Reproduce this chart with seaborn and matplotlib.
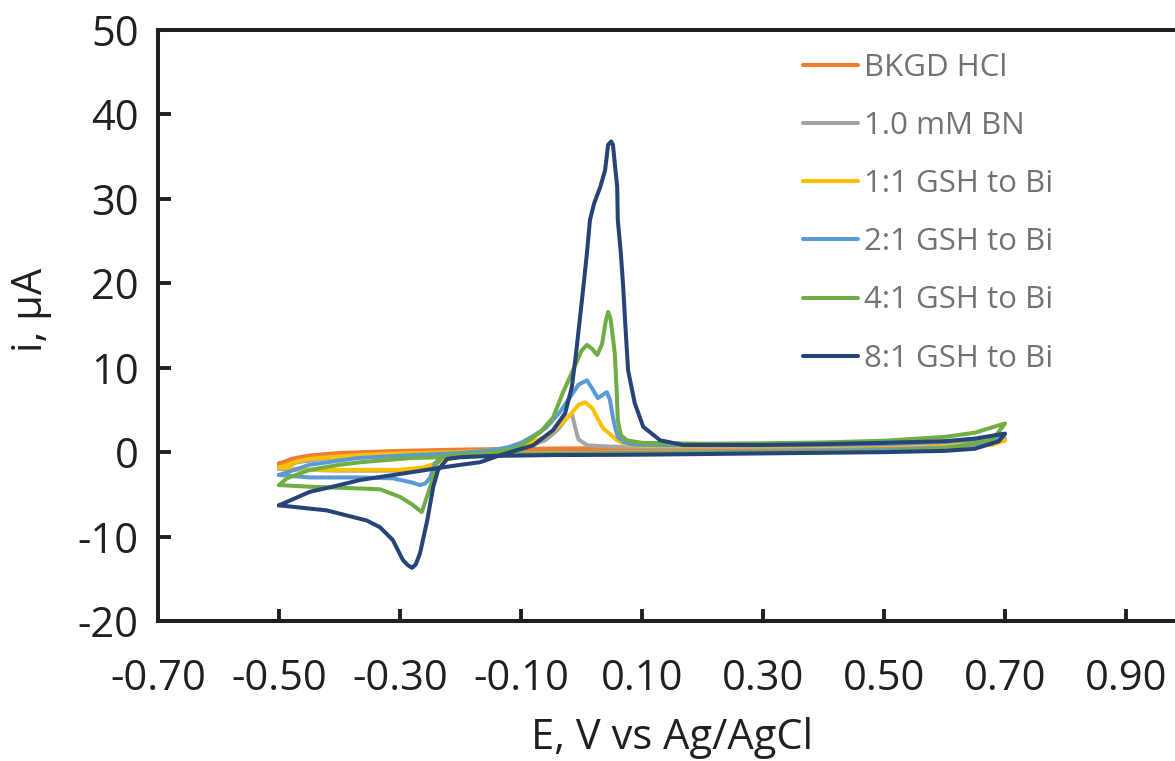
import numpy as np
import pandas as pd
import matplotlib
matplotlib.use('Agg')
import matplotlib.pyplot as plt
import matplotlib.ticker as mticker
import seaborn as sns

# series: each is a cyclic scan starting at -0.5 V, forward to 0.7 V, then back
bkgd_E = [-0.50, -0.48, -0.45, -0.40, -0.30, -0.20, -0.10, 0.00, 0.10, 0.20, 0.30, 0.40, 0.50, 0.60, 0.65, 0.70,
          0.68, 0.60, 0.50, 0.40, 0.30, 0.20, 0.10, 0.00, -0.10, -0.20, -0.30, -0.40, -0.45, -0.50]
bkgd_i = [-1.5, -0.8, -0.4, -0.1, 0.15, 0.3, 0.4, 0.45, 0.5, 0.55, 0.6, 0.65, 0.75, 0.95, 1.15, 1.6,
          1.0, 0.5, 0.35, 0.25, 0.2, 0.15, 0.1, 0.05, 0.0, -0.05, -0.1, -0.25, -0.5, -1.3]

bn_E = [-0.50, -0.47, -0.42, -0.35, -0.25, -0.15, -0.10, -0.06, -0.04, -0.025, -0.016, -0.010, -0.005, 0.01, 0.05,
        0.10, 0.20, 0.30, 0.40, 0.50, 0.60, 0.65, 0.70,
        0.68, 0.60, 0.50, 0.30, 0.10, -0.10, -0.20, -0.23, -0.26, -0.30, -0.40, -0.50]
bn_i = [-2.0, -1.2, -0.7, -0.4, -0.2, 0.0, 0.4, 1.4, 2.6, 4.0, 4.6, 2.8, 1.5, 0.8, 0.65,
        0.6, 0.6, 0.65, 0.7, 0.8, 1.0, 1.2, 1.6,
        0.9, 0.4, 0.2, 0.05, -0.05, -0.15, -0.4, -1.0, -1.9, -2.2, -2.2, -2.0]

r1_E = [-0.50, -0.47, -0.45, -0.40, -0.37, -0.30, -0.20, -0.15, -0.10, -0.085, -0.06, -0.036, -0.019, -0.005, 0.006,
        0.018, 0.028, 0.036, 0.046, 0.059, 0.07, 0.08, 0.10, 0.20, 0.30, 0.40, 0.50, 0.60, 0.65, 0.70,
        0.68, 0.60, 0.50, 0.30, 0.10, -0.10, -0.20, -0.22, -0.24, -0.26, -0.30, -0.40, -0.45, -0.50]
r1_i = [-1.8, -1.1, -0.8, -0.5, -0.35, -0.15, 0.0, 0.2, 0.6, 1.1, 1.8, 3.2, 4.4, 5.6, 5.9,
        5.2, 3.8, 2.8, 2.2, 1.4, 1.0, 0.85, 0.75, 0.7, 0.7, 0.75, 0.85, 1.0, 1.15, 1.4,
        0.9, 0.4, 0.2, 0.05, -0.05, -0.15, -0.35, -0.6, -1.3, -1.8, -2.1, -2.1, -2.1, -1.8]

r2_E = [-0.50, -0.47, -0.45, -0.40, -0.37, -0.28, -0.20, -0.15, -0.12, -0.10, -0.085, -0.06, -0.036, -0.019, -0.005,
        0.009, 0.018, 0.027, 0.035, 0.042, 0.047, 0.052, 0.056, 0.060, 0.07, 0.08, 0.10, 0.20, 0.30, 0.40, 0.50,
        0.60, 0.65, 0.70,
        0.68, 0.60, 0.50, 0.30, 0.10, -0.10, -0.20, -0.229, -0.242, -0.25, -0.258, -0.267, -0.28, -0.312, -0.366,
        -0.449, -0.50]
r2_i = [-2.7, -2.0, -1.5, -1.0, -0.7, -0.35, -0.1, 0.2, 0.6, 1.1, 1.7, 2.8, 4.7, 6.5, 8.0,
        8.5, 7.5, 6.4, 6.8, 7.1, 6.2, 4.1, 2.8, 1.8, 1.2, 0.95, 0.85, 0.8, 0.8, 0.85, 0.95,
        1.2, 1.5, 2.1,
        1.2, 0.5, 0.25, 0.05, -0.1, -0.2, -0.3, -0.5, -1.3, -3.0, -3.7, -3.9, -3.6, -3.1, -3.0,
        -3.0, -2.7]

r4_E = [-0.50, -0.487, -0.449, -0.40, -0.366, -0.283, -0.229, -0.20, -0.15, -0.113, -0.10, -0.085, -0.069, -0.047,
        -0.031, -0.014, 0.0, 0.009, 0.018, 0.026, 0.034, 0.040, 0.044, 0.048, 0.052, 0.055, 0.058, 0.060, 0.065,
        0.075, 0.10, 0.20, 0.30, 0.40, 0.50, 0.60, 0.65, 0.70,
        0.68, 0.60, 0.50, 0.30, 0.10, -0.10, -0.20, -0.229, -0.239, -0.25, -0.264, -0.28, -0.30, -0.333, -0.366,
        -0.449, -0.50]
r4_i = [-3.9, -3.1, -2.1, -1.5, -1.2, -0.7, -0.6, -0.4, -0.1, 0.4, 0.8, 1.5, 2.3, 4.1,
        7.0, 9.7, 12.0, 12.7, 12.2, 11.5, 12.8, 15.5, 16.6, 15.8, 13.5, 11.7, 7.5, 3.8, 2.0,
        1.4, 1.1, 1.0, 1.05, 1.15, 1.35, 1.8, 2.3, 3.4,
        1.5, 0.4, 0.1, -0.05, -0.15, -0.25, -0.3, -0.5, -1.3, -4.1, -7.1, -6.2, -5.3, -4.4, -4.3,
        -4.1, -3.9]

r8_E = [-0.50, -0.449, -0.40, -0.366, -0.283, -0.229, -0.20, -0.168, -0.14, -0.118, -0.080, -0.047, -0.027,
        -0.016, -0.009, -0.003, 0.003, 0.009, 0.014, 0.021, 0.031, 0.039, 0.044, 0.049, 0.052, 0.055, 0.059,
        0.060, 0.065, 0.069, 0.072, 0.077, 0.088, 0.102, 0.130, 0.168, 0.30, 0.40, 0.50, 0.60, 0.65, 0.70,
        0.69, 0.65, 0.60, 0.50, 0.30, 0.10, -0.05, -0.15, -0.20, -0.222, -0.237, -0.245, -0.255, -0.267, -0.274,
        -0.280, -0.287, -0.295, -0.312, -0.333, -0.355, -0.421, -0.50]
r8_i = [-6.3, -4.7, -3.9, -3.3, -2.4, -1.8, -1.5, -1.2, -0.5, 0.0, 0.8, 2.6, 4.6,
        7.7, 11.7, 15.6, 19.5, 23.6, 27.5, 29.5, 31.4, 33.4, 36.4, 36.8, 36.4, 34.2, 31.4,
        27.5, 23.6, 19.5, 15.6, 9.7, 5.8, 3.0, 1.4, 0.85, 0.85, 0.95, 1.1, 1.3, 1.6, 2.2,
        1.3, 0.4, 0.15, 0.0, -0.15, -0.3, -0.35, -0.45, -0.6, -0.8, -2.1, -4.1, -8.1, -12.0, -13.3,
        -13.7, -13.4, -12.8, -10.4, -8.9, -8.1, -6.9, -6.3]

labels = ['BKGD HCl', '1.0 mM BN', '1:1 GSH to Bi', '2:1 GSH to Bi', '4:1 GSH to Bi', '8:1 GSH to Bi']
colors = ['#ED7D31', '#A5A5A5', '#FFC000', '#5B9BD5', '#70AD47', '#264478']
series = [(bkgd_E, bkgd_i), (bn_E, bn_i), (r1_E, r1_i), (r2_E, r2_i), (r4_E, r4_i), (r8_E, r8_i)]

xticks = [-0.70, -0.50, -0.30, -0.10, 0.10, 0.30, 0.50, 0.70, 0.90]
yticks = [-20, -10, 0, 10, 20, 30, 40, 50]

sns.set_theme(style='white')
plt.rcParams['font.family'] = ['Open Sans', 'DejaVu Sans']
plt.rcParams['axes.unicode_minus'] = False

ink = '#231f20'
fig = plt.figure(figsize=(11.75, 7.61), dpi=100)
ax = fig.add_axes([158 / 1175, 140 / 761, 1089 / 1175, 591 / 761])

for (E, i), lab, col in zip(series, labels, colors):
    df = pd.DataFrame({'E': E, 'i': i})
    sns.lineplot(data=df, x='E', y='i', sort=False, estimator=None, color=col, lw=2.9, label=lab, ax=ax)

ax.set_xlim(-0.7, 1.1)
ax.set_ylim(-20, 50)
ax.set_xticks(xticks[1:])
ax.xaxis.set_major_formatter(mticker.FormatStrFormatter('%.2f'))
ax.set_yticks(yticks)
# keep -0.70 label at the spine without a tick mark
ax.set_xticks([-0.70], minor=True)
ax.xaxis.set_minor_formatter(mticker.FormatStrFormatter('%.2f'))
ax.tick_params(axis='x', which='minor', bottom=True, length=0, labelsize=30, pad=27, colors=ink)
ax.tick_params(axis='x', which='major', bottom=True, direction='in', length=9, width=2.8, labelsize=30,
               pad=27, colors=ink)
ax.tick_params(axis='y', left=True, direction='in', length=9, width=2.8, labelsize=30, pad=14, colors=ink)

for s in ax.spines.values():
    s.set_linewidth(2.9)
    s.set_color(ink)

ax.set_xlabel('E, V vs Ag/AgCl', fontsize=30, color=ink)
ax.set_ylabel('i, µA', fontsize=30, color=ink)
ax.xaxis.set_label_coords(0.472, -0.162)
ax.yaxis.set_label_coords(-0.097, 0.526)

leg = ax.legend(loc='upper left', bbox_to_anchor=(803 / 1175, 1 - 53 / 761), bbox_transform=fig.transFigure,
                frameon=False, fontsize=22.5, handlelength=1.75, handletextpad=0.2, labelspacing=0.9,
                borderpad=0, borderaxespad=0)
for t in leg.get_texts():
    t.set_color('#737373')
for h in leg.get_lines():
    h.set_linewidth(2.9)

fig.savefig('out.png', dpi=100)
